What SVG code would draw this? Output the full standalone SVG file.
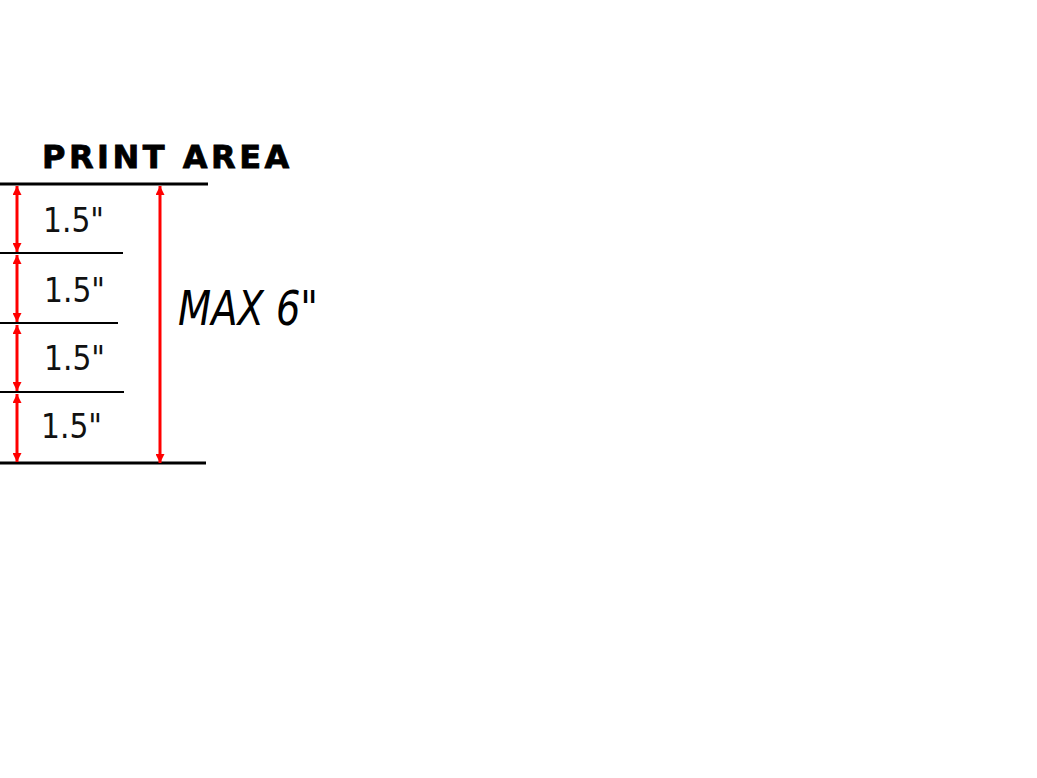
<svg xmlns="http://www.w3.org/2000/svg" width="1037" height="778" viewBox="0 0 1037 778">
<defs>
<marker id="ah" viewBox="0 0 10 10" refX="10" refY="5" markerWidth="3.2" markerHeight="3" orient="auto-start-reverse" markerUnits="strokeWidth">
<path d="M0,0 L10,5 L0,10 Z" fill="#ff0000"/>
</marker>
<style>
.dim{stroke:#ff0000;stroke-width:3;fill:none;marker-start:url(#ah);marker-end:url(#ah)}
.rule{stroke:#000;stroke-width:2}
.rule-b{stroke:#000;stroke-width:3}
.val{font-family:"DejaVu Sans Condensed","DejaVu Sans",sans-serif;font-stretch:condensed;font-size:34px;fill:#111}
.title{font-family:"DejaVu Sans","Verdana",sans-serif;font-weight:bold;font-size:32px;letter-spacing:3.5px;fill:#000;stroke:#000;stroke-width:0.8px}
.max{font-family:"DejaVu Sans Condensed","DejaVu Sans",sans-serif;font-style:italic;font-size:48px;fill:#000}
</style>
</defs>
<rect width="1037" height="778" fill="#fff"/>
<g id="title"><text class="title" x="42" y="168">PRINT AREA</text></g>
<g id="rules">
<line class="rule-b" x1="0" y1="184" x2="208" y2="184"/>
<line class="rule" x1="0" y1="253" x2="123" y2="253"/>
<line class="rule" x1="0" y1="323" x2="118" y2="323"/>
<line class="rule" x1="0" y1="392" x2="124" y2="392"/>
<line class="rule-b" x1="0" y1="463" x2="206" y2="463"/>
</g>
<g id="connectors">
<line class="dim" x1="17" y1="186" x2="17" y2="252"/>
<line class="dim" x1="17" y1="255" x2="17" y2="322"/>
<line class="dim" x1="17" y1="325" x2="17" y2="391"/>
<line class="dim" x1="17" y1="394" x2="17" y2="462"/>
<line class="dim" x1="160" y1="186" x2="160" y2="463"/>
</g>
<g id="seg1"><text class="val" x="43" y="232" textLength="61" lengthAdjust="spacingAndGlyphs">1.5"</text></g>
<g id="seg2"><text class="val" x="44" y="302" textLength="61" lengthAdjust="spacingAndGlyphs">1.5"</text></g>
<g id="seg3"><text class="val" x="44" y="370" textLength="61" lengthAdjust="spacingAndGlyphs">1.5"</text></g>
<g id="seg4"><text class="val" x="41" y="438" textLength="61" lengthAdjust="spacingAndGlyphs">1.5"</text></g>
<g id="max"><text class="max" x="178" y="325" textLength="140" lengthAdjust="spacingAndGlyphs">MAX 6"</text></g>
</svg>
